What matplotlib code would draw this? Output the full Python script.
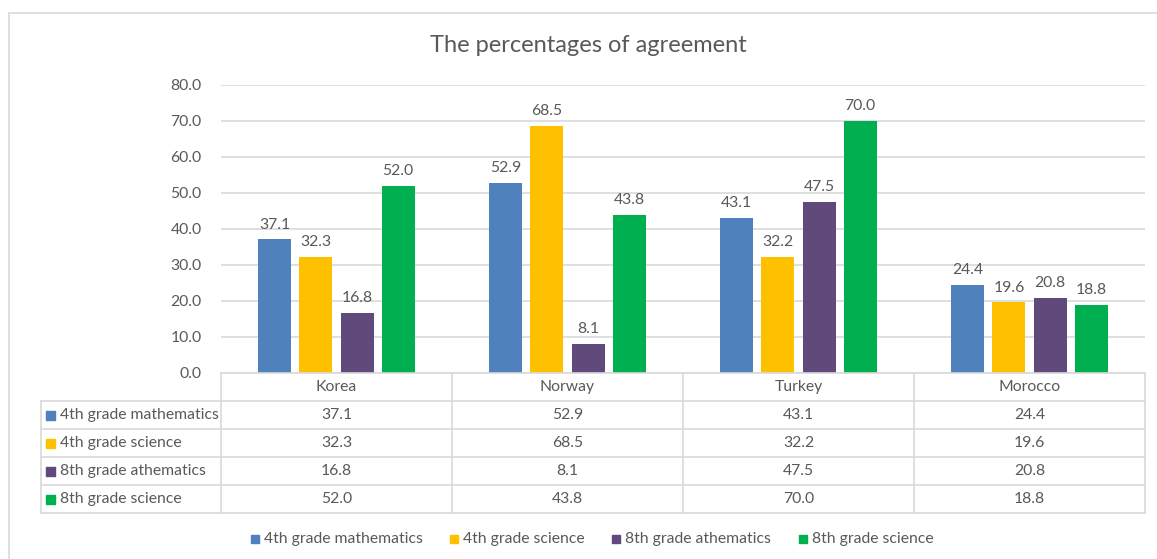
import numpy as np
import matplotlib.pyplot as plt
from matplotlib.patches import Rectangle
from matplotlib.lines import Line2D

plt.rcParams['font.family'] = ['Lato', 'DejaVu Sans']

countries = ['Korea', 'Norway', 'Turkey', 'Morocco']
series_names = ['4th grade mathematics', '4th grade science', '8th grade athematics', '8th grade science']
math4 = [37.1, 52.9, 43.1, 24.4]
science4 = [32.3, 68.5, 32.2, 19.6]
math8 = [16.8, 8.1, 47.5, 20.8]
science8 = [52.0, 43.8, 70.0, 18.8]
colors = ['#4F81BD', '#FFC000', '#604A7B', '#00B050']

series = [math4, science4, math8, science8]

W, H = 1157, 559
fig = plt.figure(figsize=(W / 100, H / 100), dpi=100)
txt = '#595959'
grid = '#D9D9D9'
fs = 11.3


def fx(px):
    return px / W


def fy(py):
    return 1 - py / H


# outer chart border
fig.add_artist(Rectangle((fx(9), fy(600)), fx(1200), fy(13) - fy(600), transform=fig.transFigure,
                         fill=False, edgecolor=grid, lw=1.2))

ax_left, ax_right, ax_top, ax_bottom = 221, 1145, 85, 373
ax = fig.add_axes([fx(ax_left), fy(ax_bottom), fx(ax_right - ax_left), fy(ax_top) - fy(ax_bottom)])

x = np.arange(len(countries))
bw = 0.143
step = 0.178
for i, (vals, c) in enumerate(zip(series, colors)):
    pos = x + (i - 1.5) * step
    ax.bar(pos, vals, width=bw, color=c, zorder=3)
    for p, v in zip(pos, vals):
        ax.text(p, v + 2.2, f'{v:.1f}', ha='center', va='bottom', fontsize=fs, color=txt)

ax.set_xlim(-0.5, len(countries) - 0.5)
ax.set_ylim(0, 80)
ax.set_yticks(np.arange(0, 81, 10))
ax.set_yticklabels([f'{t:.1f}' for t in np.arange(0, 81, 10)], fontsize=fs, color=txt)
ax.tick_params(axis='y', length=0, pad=14)
ax.set_xticks([])
ax.grid(axis='y', color=grid, lw=1.2, zorder=0)
for s in ax.spines.values():
    s.set_visible(False)

fig.text(fx(588), fy(45), 'The percentages of agreement', ha='center', va='center',
         fontsize=17, color=txt)

# data table under the axis
row_tops = [373, 401, 429, 457, 485, 513]
tab_left = 41
col_edges = [ax_left + (ax_right - ax_left) * k / len(countries) for k in range(len(countries) + 1)]
line_kw = dict(transform=fig.transFigure, color=grid, lw=1.2)
fig.add_artist(Line2D([fx(ax_left), fx(ax_right)], [fy(row_tops[0])] * 2, **line_kw))
for r in row_tops[1:]:
    fig.add_artist(Line2D([fx(tab_left), fx(ax_right)], [fy(r)] * 2, **line_kw))
fig.add_artist(Line2D([fx(tab_left)] * 2, [fy(row_tops[1]), fy(row_tops[-1])], **line_kw))
for ce in col_edges:
    fig.add_artist(Line2D([fx(ce)] * 2, [fy(row_tops[0]), fy(row_tops[-1])], **line_kw))

for j, name in enumerate(countries):
    cx = 0.5 * (col_edges[j] + col_edges[j + 1])
    fig.text(fx(cx), fy((row_tops[0] + row_tops[1]) / 2), name, ha='center', va='center',
             fontsize=fs, color=txt)
for i, (name, vals, c) in enumerate(zip(series_names, series, colors)):
    cy = (row_tops[i + 1] + row_tops[i + 2]) / 2
    fig.add_artist(Rectangle((fx(46), fy(cy + 4.5)), fx(9), fy(cy - 4.5) - fy(cy + 4.5),
                             transform=fig.transFigure, color=c))
    fig.text(fx(60), fy(cy), name, ha='left', va='center', fontsize=fs, color=txt)
    for j, v in enumerate(vals):
        cx = 0.5 * (col_edges[j] + col_edges[j + 1])
        fig.text(fx(cx), fy(cy), f'{v:.1f}', ha='center', va='center', fontsize=fs, color=txt)

# legend
leg_x = [251, 450, 612, 799]
for lx, name, c in zip(leg_x, series_names, colors):
    fig.add_artist(Rectangle((fx(lx), fy(543)), fx(8), fy(535) - fy(543), transform=fig.transFigure, color=c))
    fig.text(fx(lx + 13), fy(538.5), name, ha='left', va='center', fontsize=fs, color=txt)

fig.savefig('out.png', dpi=100)
